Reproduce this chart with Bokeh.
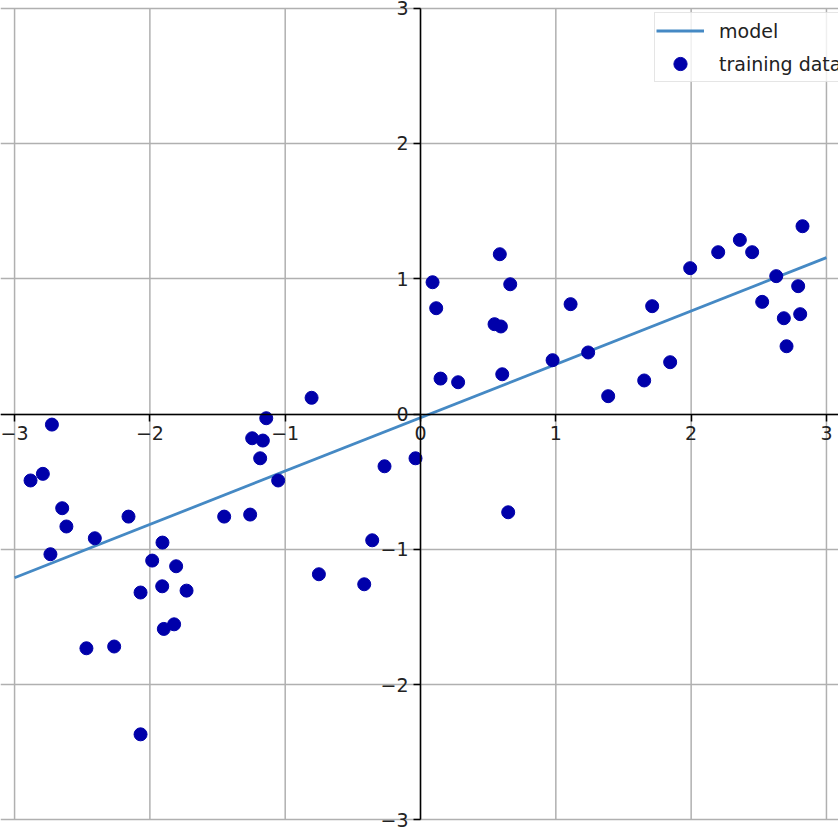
from bokeh.plotting import figure
from bokeh.models import (Range1d, LinearAxis, Grid, FixedTicker, ColumnDataSource,
                          Legend, LegendItem)
from bokeh.embed import file_html
from bokeh.resources import INLINE

# ---- data ----
train_x = [-2.724, -2.882, -2.791, -2.648, -2.617, -2.735, -2.407, -2.158, -2.469, -2.264,
           -2.069, -2.069, -1.983, -1.907, -1.909, -1.806, -1.729, -1.897, -1.821, -1.451,
           -1.259, -1.244, -1.165, -1.140, -1.185, -1.052, -0.751, -0.416, -0.357, -0.266,
           -0.037, -0.805, 0.089, 0.116, 0.148, 0.278, 0.586, 0.663, 0.547, 0.594,
           0.604, 0.648, 0.976, 1.109, 1.239, 1.387, 1.653, 1.712, 1.845, 1.993,
           2.200, 2.360, 2.451, 2.629, 2.525, 2.685, 2.705, 2.791, 2.806, 2.823]
train_y = [-0.078, -0.491, -0.442, -0.696, -0.831, -1.036, -0.918, -0.758, -1.731, -1.718,
           -2.367, -1.319, -1.083, -0.950, -1.273, -1.125, -1.305, -1.588, -1.554, -0.758,
           -0.743, -0.179, -0.196, -0.031, -0.327, -0.491, -1.184, -1.258, -0.933, -0.386,
           -0.327, 0.120, 0.974, 0.782, 0.262, 0.235, 1.181, 0.959, 0.664, 0.647,
           0.294, -0.726, 0.398, 0.812, 0.455, 0.132, 0.248, 0.797, 0.383, 1.078,
           1.196, 1.287, 1.196, 1.019, 0.829, 0.708, 0.501, 0.945, 0.738, 1.388]
model_x = [-3.0, 3.0]
model_y = [-1.210, 1.156]

x_ticks = [-3, -2, -1, 0, 1, 2, 3]
y_ticks = [-3, -2, -1, 0, 1, 2, 3]
y_limits = (-3, 3)
tick_labels = {-3: "\u22123", -2: "\u22122", -1: "\u22121", 0: "0", 1: "1", 2: "2", 3: "3"}
legend_labels = ["model", "training data"]

FONT = "DejaVu Sans"
FS = "19px"
GRID = "#b0b0b0"

p = figure(width=838, height=836, output_backend="svg", toolbar_location=None,
           x_range=Range1d(-3.104, 3.089), y_range=Range1d(-3.122, 3.056),
           x_axis_location=None, y_axis_location=None, min_border=0,
           outline_line_color=None, background_fill_color="white",
           border_fill_color="white")
# drop the default grids that figure() creates
p.center = []

# grid: horizontal lines span the full width, vertical lines only inside the y limits
yg = Grid(dimension=1, ticker=FixedTicker(ticks=y_ticks), grid_line_color=GRID,
          grid_line_width=1.5)
p.add_layout(yg)
vgrid = ColumnDataSource(dict(x0=x_ticks, x1=x_ticks,
                              y0=[y_limits[0]] * len(x_ticks),
                              y1=[y_limits[1]] * len(x_ticks)))
p.segment("x0", "y0", "x1", "y1", source=vgrid, line_color=GRID, line_width=1.5,
          level="underlay")

# centered axes
xaxis = LinearAxis(fixed_location=0, ticker=FixedTicker(ticks=x_ticks),
                   major_label_overrides=tick_labels)
yaxis = LinearAxis(fixed_location=0, ticker=FixedTicker(ticks=y_ticks),
                   major_label_overrides=tick_labels, bounds=y_limits)
for ax in (xaxis, yaxis):
    ax.axis_line_color = "black"
    ax.axis_line_width = 1.5
    ax.major_tick_line_color = "black"
    ax.major_tick_line_width = 1.5
    ax.major_tick_out = 7
    ax.major_tick_in = 0
    ax.minor_tick_out = 0
    ax.minor_tick_in = 0
    ax.major_label_standoff = 5
    ax.major_label_text_font = FONT
    ax.major_label_text_font_size = FS
    ax.major_label_text_color = "#222222"
p.add_layout(xaxis, "below")
p.add_layout(yaxis, "left")

line_src = ColumnDataSource(dict(x=model_x, y=model_y))
pt_src = ColumnDataSource(dict(x=train_x, y=train_y))
r_line = p.line("x", "y", source=line_src, line_color="#4589c4", line_width=2.8)
r_pts = p.scatter("x", "y", source=pt_src, size=13, fill_color="#0000aa",
                  line_color="#0000aa", line_width=1)

legend = Legend(items=[LegendItem(label=legend_labels[0], renderers=[r_line]),
                       LegendItem(label=legend_labels[1], renderers=[r_pts])],
                location=(654, 754), margin=0, padding=1, spacing=-2,
                glyph_width=48, glyph_height=33, label_height=33, label_standoff=15,
                label_text_font=FONT, label_text_font_size=FS, label_text_color="#222222",
                border_line_color="#cccccc", border_line_width=1.2,
                background_fill_color="white", background_fill_alpha=0.8)
p.add_layout(legend)

open("out.html", "w").write(file_html(p, INLINE))
